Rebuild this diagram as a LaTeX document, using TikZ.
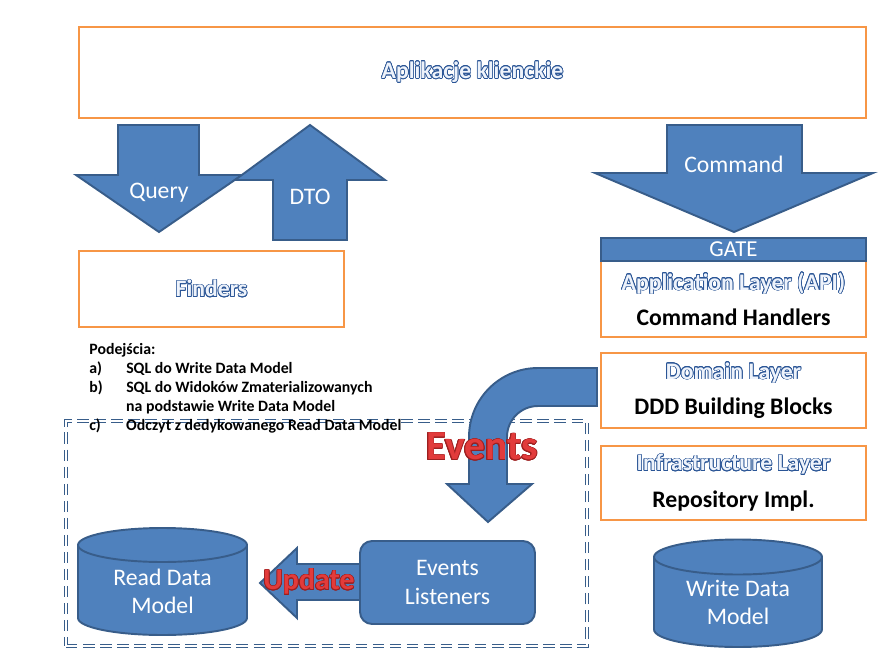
\documentclass[tikz,border=0pt]{standalone}
\usepackage{fontspec}
\setmainfont{Carlito}
\usepackage[copies]{contour}
\contourlength{0.4pt}

\definecolor{boxorange}{HTML}{F79646}
\definecolor{shapeblue}{HTML}{4F81BD}
\definecolor{edgeblue}{HTML}{385D8A}
\definecolor{outlblue}{HTML}{2A5596}
\definecolor{glow}{HTML}{EEF3FB}
\definecolor{evred}{HTML}{E23B3B}
\definecolor{evdark}{HTML}{9C1F1F}

\newcommand{\outlined}[1]{{\color{glow}\contour{outlblue}{#1}}}
\newcommand{\redword}[1]{{\color{evred}\contour{evdark}{#1}}}

\begin{document}
\begin{tikzpicture}[x=0.02cm,y=-0.02cm,
    layer/.style={draw=boxorange,line width=1.6pt,fill=white,inner sep=0pt,
      align=center,minimum width=5.3cm,font=\fontsize{13.5}{17}\selectfont\bfseries},
    blueshape/.style={draw=edgeblue,line width=1.1pt,fill=shapeblue},
    wlabel/.style={text=white,font=\fontsize{13.5}{16}\selectfont,align=center},
    dashbox/.style={draw=edgeblue,line width=0.5pt,double=white,double distance=1.2pt,
      dash pattern=on 6.5pt off 3.2pt}]
  \useasboundingbox (0,0) rectangle (879,659);

  % client side
  \node[layer,minimum width=15.74cm,minimum height=1.82cm] (apps) at (472.5,72.5)
    {\outlined{Aplikacje klienckie}};

  \draw[blueshape] (118,125) -- (199,125) -- (199,175) -- (242,175) -- (159,232)
    -- (76,175) -- (118,175) -- cycle;
  \node[wlabel] (query) at (159,193) {Query};
  \draw[blueshape] (310,125) -- (385,180) -- (347,180) -- (347,240) -- (273,240)
    -- (273,180) -- (235,180) -- cycle;
  \node[wlabel] (dto) at (310,197) {DTO};

  \node[layer,minimum height=1.52cm] (finders) at (211.5,289) {\outlined{Finders}};

  % write side
  \draw[blueshape] (667,125) -- (802,125) -- (802,173) -- (873,173) -- (734,232)
    -- (595,173) -- (667,173) -- cycle;
  \node[wlabel] (command) at (734,164) {Command};

  \node[layer,minimum height=1.52cm] (api) at (733.5,299)
    {\outlined{Application Layer (API)}\\[3pt]Command Handlers};
  \node[blueshape,minimum width=5.3cm,minimum height=0.46cm,inner sep=0pt,text=white,
    font=\fontsize{13}{14}\selectfont] (gate) at (733.5,249.5) {GATE};
  \node[layer,minimum height=1.5cm] (domain) at (733.5,390.5)
    {\outlined{Domain Layer}\\[3pt]DDD Building Blocks};
  \node[layer,minimum height=1.48cm] (infra) at (733.5,483)
    {\outlined{Infrastructure Layer}\\[4pt]Repository Impl.};

  \draw[blueshape] (654,557) -- (654,629.5)
    arc[start angle=180,end angle=360,x radius=1.68cm,y radius=0.35cm] -- (822,557)
    arc[start angle=0,end angle=180,x radius=1.68cm,y radius=0.35cm] -- cycle;
  \draw[draw=edgeblue,line width=1.1pt] (654,557)
    arc[start angle=180,end angle=360,x radius=1.68cm,y radius=0.35cm];
  \node[wlabel] (writedb) at (738,602) {Write Data\\Model};

  % read model
  \node[dashbox,minimum width=10.42cm,minimum height=4.5cm] (readside) at (326.5,533.5) {};

  \node[anchor=north west,inner sep=0pt,align=left,
    font=\fontsize{9}{10.8}\selectfont\bfseries] (podejscia) at (89,343)
    {Podejścia:\\
     \makebox[21pt][l]{a)}SQL do Write Data Model\\
     \makebox[21pt][l]{b)}SQL do Widoków Zmaterializowanych\\
     \makebox[21pt][l]{}na podstawie Write Data Model\\
     \makebox[21pt][l]{c)}Odczyt z dedykowanego Read Data Model};

  \draw[blueshape] (78,545) -- (78,618)
    arc[start angle=180,end angle=360,x radius=1.69cm,y radius=0.34cm] -- (247,545)
    arc[start angle=0,end angle=180,x radius=1.69cm,y radius=0.34cm] -- cycle;
  \draw[draw=edgeblue,line width=1.1pt] (78,545)
    arc[start angle=180,end angle=360,x radius=1.69cm,y radius=0.34cm];
  \node[wlabel] (readdb) at (162.5,591) {Read Data\\Model};

  \draw[blueshape] (362,564) -- (297,564) -- (297,548) -- (260,583) -- (297,618)
    -- (297,600) -- (362,600) -- cycle;
  \node[blueshape,rounded corners=0.24cm,minimum width=3.5cm,minimum height=1.66cm,
    wlabel] (listeners) at (447.5,582.5) {Events\\Listeners};
  \node[font=\fontsize{17}{20}\selectfont\bfseries] (update) at (309,582) {\redword{Update}};

  \draw[blueshape] (597,368) -- (538,368) arc[start angle=90,end angle=180,radius=1.38cm]
    -- (469,484) -- (447,484) -- (488,522) -- (532,484) -- (507,484) -- (507,437)
    arc[start angle=180,end angle=90,radius=0.62cm] -- (597,406) -- cycle;
  \node[font=\fontsize{23.5}{26}\selectfont\bfseries] (events) at (482,447) {\redword{Events}};
\end{tikzpicture}
\end{document}
